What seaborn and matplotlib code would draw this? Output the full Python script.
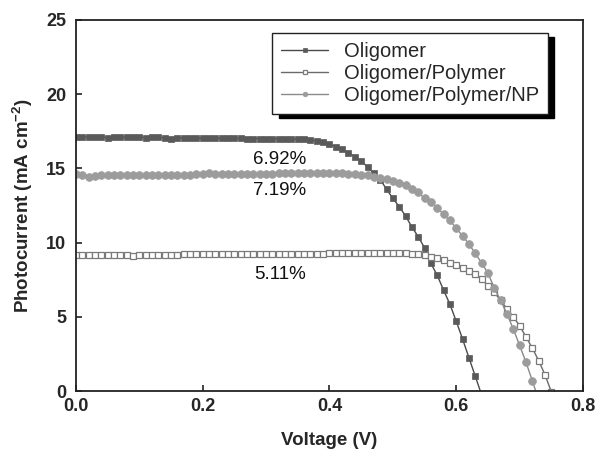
import numpy as np
import pandas as pd
import matplotlib
matplotlib.use("Agg")
import matplotlib.pyplot as plt
import seaborn as sns

# Bias voltage grid (V), shared by all three devices
voltage = np.round(np.arange(0, 0.76, 0.01), 2)

# Photocurrent density (mA cm^-2) for each device
oligomer = [
    17.10, 17.10, 17.12, 17.10, 17.10, 17.08, 17.10, 17.10, 17.10, 17.10,
    17.10, 17.08, 17.10, 17.10, 17.05, 16.98, 17.05, 17.05, 17.05, 17.04,
    17.04, 17.03, 17.03, 17.02, 17.02, 17.02, 17.02, 17.01, 17.01, 17.01,
    17.01, 17.00, 17.00, 17.00, 16.99, 16.97, 16.95, 16.92, 16.85, 16.75,
    16.62, 16.47, 16.28, 16.05, 15.80, 15.50, 15.10, 14.67, 14.25, 13.60,
    12.98, 12.42, 11.80, 11.05, 10.40, 9.65, 8.60, 7.80, 6.80, 5.85,
    4.70, 3.50, 2.25, 1.00, -0.25,
]
oligomer_polymer = [
    9.17, 9.17, 9.17, 9.17, 9.17, 9.17, 9.17, 9.17, 9.17, 9.10,
    9.18, 9.18, 9.18, 9.19, 9.19, 9.19, 9.19, 9.20, 9.20, 9.20,
    9.20, 9.21, 9.21, 9.21, 9.22, 9.22, 9.22, 9.22, 9.23, 9.23,
    9.23, 9.24, 9.24, 9.24, 9.25, 9.25, 9.25, 9.26, 9.26, 9.26,
    9.27, 9.27, 9.27, 9.28, 9.28, 9.28, 9.28, 9.28, 9.28, 9.28,
    9.28, 9.28, 9.27, 9.26, 9.24, 9.18, 9.06, 8.95, 8.80, 8.65,
    8.48, 8.30, 8.10, 7.90, 7.55, 7.10, 6.65, 6.10, 5.55, 5.00,
    4.40, 3.65, 2.90, 2.05, 1.10, -0.05,
]
oligomer_polymer_np = [
    14.60, 14.55, 14.45, 14.52, 14.55, 14.55, 14.55, 14.56, 14.56, 14.56,
    14.56, 14.57, 14.57, 14.57, 14.57, 14.58, 14.58, 14.58, 14.58, 14.60,
    14.62, 14.66, 14.64, 14.60, 14.60, 14.62, 14.62, 14.62, 14.63, 14.63,
    14.64, 14.65, 14.66, 14.66, 14.66, 14.67, 14.67, 14.67, 14.67, 14.67,
    14.67, 14.67, 14.66, 14.65, 14.62, 14.58, 14.53, 14.45, 14.35, 14.27,
    14.16, 14.04, 13.85, 13.64, 13.38, 12.98, 12.72, 12.35, 11.90, 11.50,
    10.96, 10.45, 9.90, 9.28, 8.62, 7.95, 6.95, 6.10, 5.20, 4.18,
    3.08, 1.95, 0.70, -0.60,
]

labels = ["Oligomer", "Oligomer/Polymer", "Oligomer/Polymer/NP"]
efficiencies = ["6.92%", "7.19%", "5.11%"]
efficiency_pos = [(0.322, 15.63), (0.322, 13.54), (0.322, 7.82)]

x_ticks = [0.0, 0.2, 0.4, 0.6, 0.8]
y_ticks = [0, 5, 10, 15, 20, 25]

sns.set_style("ticks")
plt.rcParams["font.family"] = ["Liberation Sans", "DejaVu Sans"]
plt.rcParams["xtick.direction"] = "in"
plt.rcParams["ytick.direction"] = "in"

fig, ax = plt.subplots(figsize=(5.95, 4.5), dpi=100)
fig.subplots_adjust(left=0.1277, right=0.9798, bottom=0.1311, top=0.9556)

series = [oligomer, oligomer_polymer, oligomer_polymer_np]
styles = [
    dict(color="#4a4a4a", marker="s", markersize=5.0, markerfacecolor="#5a5a5a",
         markeredgecolor="#5a5a5a", markeredgewidth=0.5, linewidth=1.0),
    dict(color="#6a6a6a", marker="s", markersize=5.0, markerfacecolor="white",
         markeredgecolor="#7a7a7a", markeredgewidth=0.9, linewidth=1.0),
    dict(color="#8a8a8a", marker="o", markersize=5.6, markerfacecolor="#9c9c9c",
         markeredgecolor="#9c9c9c", markeredgewidth=0.5, linewidth=1.0),
]

for current, label, kw in zip(series, labels, styles):
    df = pd.DataFrame({"Voltage": voltage[:len(current)], "Current": current})
    sns.lineplot(data=df, x="Voltage", y="Current", estimator=None, sort=False,
                 label=label, ax=ax, **kw)

for text, (xv, yv) in zip(efficiencies, efficiency_pos):
    ax.text(xv, yv, text, ha="center", va="center", fontsize=13.5, color="#111111")

ax.set_xlim(0, 0.8)
ax.set_ylim(0, 25)
ax.set_xticks(x_ticks)
ax.set_xticklabels([f"{t:.1f}" for t in x_ticks])
ax.set_yticks(y_ticks)
ax.set_yticklabels([str(t) for t in y_ticks])
ax.tick_params(axis="both", labelsize=13, width=1.2, length=4, color="#222222")
for lab in ax.get_xticklabels() + ax.get_yticklabels():
    lab.set_fontweight("bold")
ax.tick_params(axis="x", pad=5)
ax.tick_params(axis="y", pad=7)

for side in ["left", "right", "top", "bottom"]:
    ax.spines[side].set_visible(True)
    ax.spines[side].set_linewidth(1.3)
    ax.spines[side].set_color("#222222")

ax.set_xlabel("Voltage (V)", fontsize=13.5, fontweight="bold", labelpad=12)
ax.set_ylabel("Photocurrent (mA cm$^{\\mathregular{-2}}$)", fontsize=13.5,
              fontweight="bold", labelpad=8)

leg = ax.legend(loc="upper right", bbox_to_anchor=(0.931, 0.965), borderaxespad=0,
                fontsize=14.5, frameon=True, fancybox=False, edgecolor="#222222",
                handlelength=2.3, handletextpad=0.8, labelspacing=0.15,
                borderpad=0.45, markerscale=0.6,
                shadow={"ox": 4.5, "oy": -3, "facecolor": "black",
                        "edgecolor": "black", "alpha": 1})
leg.get_frame().set_linewidth(1.0)
leg.get_frame().set_alpha(1)

fig.savefig("out.png", dpi=100)
